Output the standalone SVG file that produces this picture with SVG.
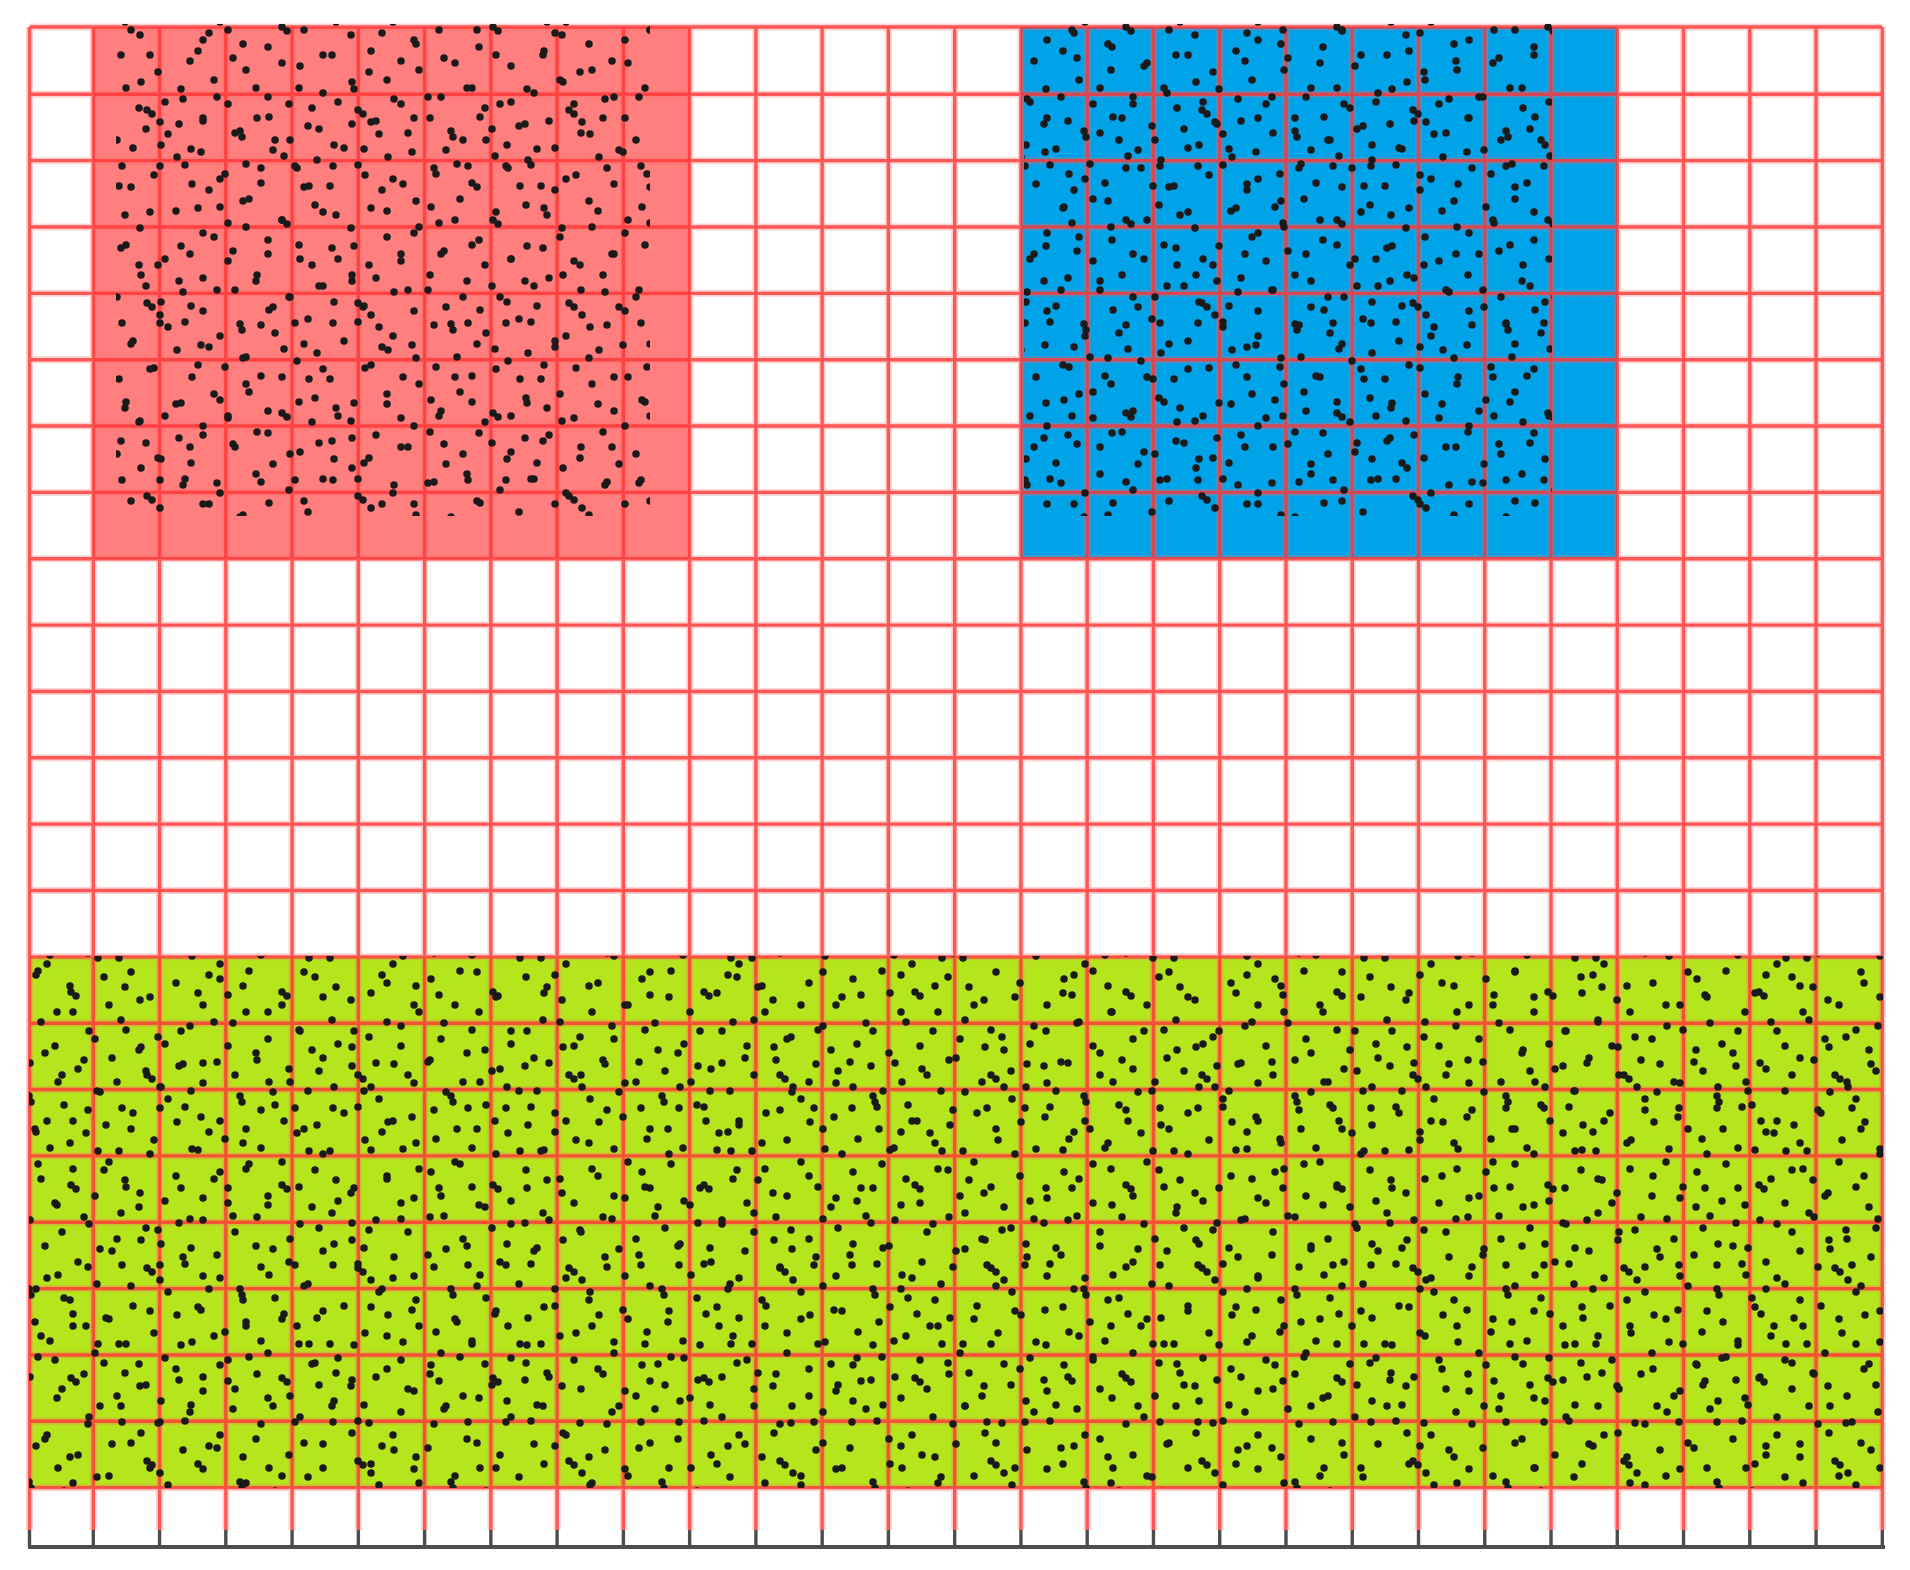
<svg xmlns="http://www.w3.org/2000/svg" xmlns:xlink="http://www.w3.org/1999/xlink" width="1910" height="1570" viewBox="0 0 1910 1570">
<style>
.dot{fill:none;stroke:#1a1a1a;stroke-width:7.5;stroke-linecap:round}
.halo{fill:none;stroke:#ff6a6a;stroke-opacity:0.3;stroke-width:7}
.core{fill:none;stroke:#ff3333;stroke-opacity:0.78;stroke-width:3.4}
.axis{fill:none;stroke:#4d4d4d;stroke-width:4}
.tick{fill:none;stroke:#4d4d4d;stroke-width:3.4}
</style>
<defs>
<pattern id="dA" patternUnits="userSpaceOnUse" width="173" height="157">
<path class="dot" d="M12 8h0.01M47 22h0.01M88 11h0.01M131 30h0.01M160 9h0.01M25 51h0.01M70 44h0.01M109 63h0.01M150 55h0.01M8 89h0.01M41 80h0.01M95 97h0.01M126 88h0.01M165 102h0.01M30 121h0.01M62 133h0.01M84 118h0.01M117 140h0.01M146 129h0.01M18 149h0.01M55 104h0.01M100 150h0.01M139 108h0.01M73 70h0.01M161 145h0.01M36 33h0.01M122 9h0.01M6 124h0.01"/>
</pattern>
<pattern id="dB" patternUnits="userSpaceOnUse" width="211" height="193">
<path class="dot" d="M9 14h0.01M38 6h0.01M71 27h0.01M76 31h0.01M104 12h0.01M140 35h0.01M176 18h0.01M203 40h0.01M22 58h0.01M57 47h0.01M89 66h0.01M121 55h0.01M158 72h0.01M190 61h0.01M6 97h0.01M45 88h0.01M78 104h0.01M112 93h0.01M147 110h0.01M152 114h0.01M183 99h0.01M29 131h0.01M31 137h0.01M64 140h0.01M97 126h0.01M133 148h0.01M168 134h0.01M201 152h0.01M14 174h0.01M50 183h0.01M86 168h0.01M119 186h0.01M154 175h0.01M192 184h0.01M35 164h0.01M73 156h0.01M106 160h0.01M141 82h0.01M177 157h0.01M203 118h0.01M17 30h0.01M58 117h0.01M125 22h0.01M160 122h0.01M98 186h0.01"/>
</pattern>
<path id="gridlines" d="M29.5 27H1882.3M29.5 94.3H1882.3M29.5 160.65H1882.3M29.5 227H1882.3M29.5 293.35H1882.3M29.5 359.7H1882.3M29.5 426.05H1882.3M29.5 492.4H1882.3M29.5 558.75H1882.3M29.5 625.1H1882.3M29.5 691.45H1882.3M29.5 757.8H1882.3M29.5 824.15H1882.3M29.5 890.5H1882.3M29.5 956.85H1882.3M29.5 1023.2H1882.3M29.5 1089.55H1882.3M29.5 1155.9H1882.3M29.5 1222.25H1882.3M29.5 1288.6H1882.3M29.5 1354.95H1882.3M29.5 1421.3H1882.3M29.5 1487.65H1882.3M29.5 27V1530M93.3 27V1530M159.56 27V1530M225.82 27V1530M292.08 27V1530M358.34 27V1530M424.6 27V1530M490.86 27V1530M557.12 27V1530M623.38 27V1530M689.64 27V1530M755.9 27V1530M822.16 27V1530M888.42 27V1530M954.68 27V1530M1020.94 27V1530M1087.2 27V1530M1153.46 27V1530M1219.72 27V1530M1285.98 27V1530M1352.24 27V1530M1418.5 27V1530M1484.76 27V1530M1551.02 27V1530M1617.28 27V1530M1683.54 27V1530M1749.8 27V1530M1816.06 27V1530M1882.32 27V1530"/>
</defs>
<rect width="1910" height="1570" fill="#ffffff"/>
<g id="regions">
<rect id="pink-region" x="93.3" y="27" width="596.34" height="531.75" fill="#ff7f7f"/>
<rect id="blue-region" x="1020.94" y="27" width="596.34" height="531.75" fill="#00a2e8"/>
<rect id="green-region" x="29.5" y="956.85" width="1852.82" height="530.8" fill="#b5e61d"/>
</g>
<g id="grid">
<use xlink:href="#gridlines" href="#gridlines" class="halo"/>
<use xlink:href="#gridlines" href="#gridlines" class="core"/>
</g>
<g id="axis">
<path class="tick" d="M29.5 1530V1547M93.3 1530V1547M159.56 1530V1547M225.82 1530V1547M292.08 1530V1547M358.34 1530V1547M424.6 1530V1547M490.86 1530V1547M557.12 1530V1547M623.38 1530V1547M689.64 1530V1547M755.9 1530V1547M822.16 1530V1547M888.42 1530V1547M954.68 1530V1547M1020.94 1530V1547M1087.2 1530V1547M1153.46 1530V1547M1219.72 1530V1547M1285.98 1530V1547M1352.24 1530V1547M1418.5 1530V1547M1484.76 1530V1547M1551.02 1530V1547M1617.28 1530V1547M1683.54 1530V1547M1749.8 1530V1547M1816.06 1530V1547M1882.32 1530V1547"/>
<path class="axis" d="M28 1547H1885"/>
</g>
<g id="dots">
<g id="pink-dots">
<rect x="116" y="24" width="534" height="492" fill="url(#dA)"/>
<rect x="116" y="24" width="534" height="492" fill="url(#dB)"/>
</g>
<g id="blue-dots">
<rect x="1024" y="24" width="528" height="492" fill="url(#dA)"/>
<rect x="1024" y="24" width="528" height="492" fill="url(#dB)"/>
</g>
<g id="green-dots">
<rect x="29" y="956" width="1854" height="532" fill="url(#dA)"/>
<rect x="29" y="956" width="1854" height="532" fill="url(#dB)"/>
</g>
</g>
</svg>
